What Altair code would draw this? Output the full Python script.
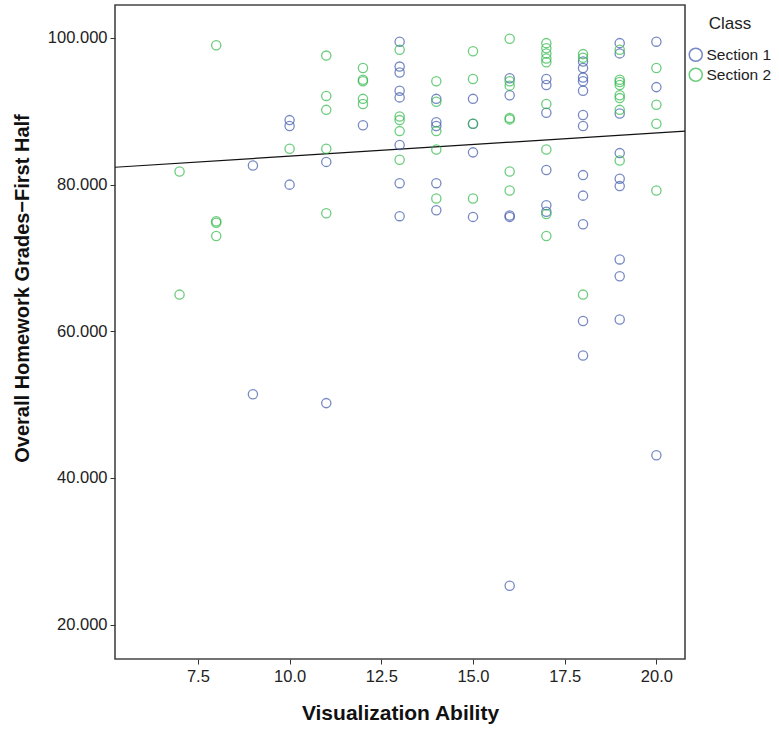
import altair as alt
import pandas as pd

# Visualization Ability (x) and grade (y) per section
s1_ability = [9, 9,
              10, 10, 10,
              11, 11,
              12,
              13, 13, 13, 13, 13, 13, 13, 13,
              14, 14, 14, 14, 14,
              15, 15, 15, 15,
              16, 16, 16, 16, 16,
              17, 17, 17, 17, 17, 17,
              18, 18, 18, 18, 18, 18, 18, 18, 18, 18, 18, 18,
              19, 19, 19, 19, 19, 19, 19, 19, 19,
              20, 20, 20]
s1_grade = [82.6, 51.4,
            88.8, 88.0, 80.0,
            83.1, 50.2,
            88.1,
            99.5, 96.1, 95.3, 92.8, 91.9, 85.4, 80.2, 75.7,
            91.7, 88.5, 88.0, 80.2, 76.5,
            91.7, 88.3, 84.4, 75.6,
            94.5, 92.2, 75.8, 75.6, 25.3,
            94.4, 93.6, 89.8, 82.0, 77.2, 76.3,
            96.8, 95.9, 94.6, 94.1, 92.8, 89.5, 88.0, 81.3, 78.5, 74.6, 61.4, 56.7,
            99.3, 97.9, 89.7, 84.3, 80.8, 79.8, 69.8, 67.5, 61.6,
            99.5, 93.3, 43.1]

s2_ability = [7, 7,
              8, 8, 8, 8,
              10,
              11, 11, 11, 11, 11,
              12, 12, 12, 12, 12,
              13, 13, 13, 13, 13,
              14, 14, 14, 14, 14,
              15, 15, 15, 15,
              16, 16, 16, 16, 16, 16, 16,
              17, 17, 17, 17, 17, 17, 17, 17, 17,
              18, 18, 18,
              19, 19, 19, 19, 19, 19, 19, 19,
              20, 20, 20, 20]
s2_grade = [81.8, 65.0,
            99.0, 75.0, 74.8, 73.0,
            84.9,
            97.6, 92.1, 90.2, 84.9, 76.1,
            95.9, 94.3, 94.1, 91.7, 91.0,
            98.4, 89.3, 88.8, 87.3, 83.4,
            94.1, 91.3, 87.3, 84.8, 78.1,
            98.2, 94.4, 88.3, 78.1,
            99.9, 94.1, 93.5, 89.1, 88.9, 81.8, 79.2,
            99.3, 98.6, 97.9, 97.2, 96.7, 91.0, 84.8, 76.0, 73.0,
            97.8, 97.3, 65.0,
            98.4, 94.3, 94.0, 93.6, 92.2, 91.8, 90.2, 83.3,
            95.9, 90.9, 88.3, 79.2]

sections = ["Section 1", "Section 2"]
section_colors = ["#3E58AC", "#2EB848"]
x_ticks = [7.5, 10.0, 12.5, 15.0, 17.5, 20.0]
y_ticks = [20, 40, 60, 80, 100]
x_domain = [5.24, 20.78]
y_domain = [15.3, 104.5]

df = pd.DataFrame({
    "ability": s1_ability + s2_ability,
    "grade": s1_grade + s2_grade,
    "Class": [sections[0]] * len(s1_ability) + [sections[1]] * len(s2_ability),
})

FONT = "Liberation Sans"

x_enc = alt.X("ability:Q", title="Visualization Ability",
              scale=alt.Scale(domain=x_domain, nice=False, zero=False),
              axis=alt.Axis(values=x_ticks, format=".1f", grid=False, domain=False,
                            tickSize=5, tickColor="#333333", labelPadding=4,
                            labelFontSize=16.5, titleFontSize=21, titleFontWeight="bold",
                            titlePadding=18, titleColor="#111111", labelColor="#222222"))
y_enc = alt.Y("grade:Q", title="Overall Homework Grades\u2212First Half",
              scale=alt.Scale(domain=y_domain, nice=False, zero=False),
              axis=alt.Axis(values=y_ticks, format=".3f", grid=False, domain=False,
                            tickSize=5, tickColor="#333333", labelPadding=3,
                            labelFontSize=16.5, titleFontSize=20, titleFontWeight="bold",
                            titleX=-93, titleY=283, titleAngle=270,
                            titleAlign="center", titleBaseline="middle",
                            titleColor="#111111", labelColor="#222222"))

points = alt.Chart(df).mark_point(shape="circle", filled=False, size=85, strokeWidth=1.3).encode(
    x=x_enc,
    y=y_enc,
    color=alt.Color("Class:N", scale=alt.Scale(domain=sections, range=section_colors),
                    legend=alt.Legend(orient="none", legendX=573, legendY=11,
                                      title="Class", titleFontSize=17, titleFontWeight="normal",
                                      titleAnchor="middle", titleColor="#222222",
                                      labelFontSize=15.5, labelColor="#222222",
                                      symbolSize=170, symbolStrokeWidth=1.5,
                                      rowPadding=0, titlePadding=14, labelOffset=3)),
)

fit = alt.Chart(df).transform_regression(
    "ability", "grade", extent=x_domain
).mark_line(color="#111111", strokeWidth=1.2, clip=True).encode(
    x="ability:Q", y="grade:Q"
)

chart = alt.layer(fit, points).properties(
    width=570, height=654,
    autosize=alt.AutoSizeParams(type="none"),
    padding={"left": 115, "top": 5, "right": 94, "bottom": 70},
    background="white",
).configure(
    font=FONT,
    view=alt.ViewConfig(stroke="#444444", strokeWidth=1.6),
)

chart.save("out.html", embed_options={"renderer": "svg", "actions": False})
